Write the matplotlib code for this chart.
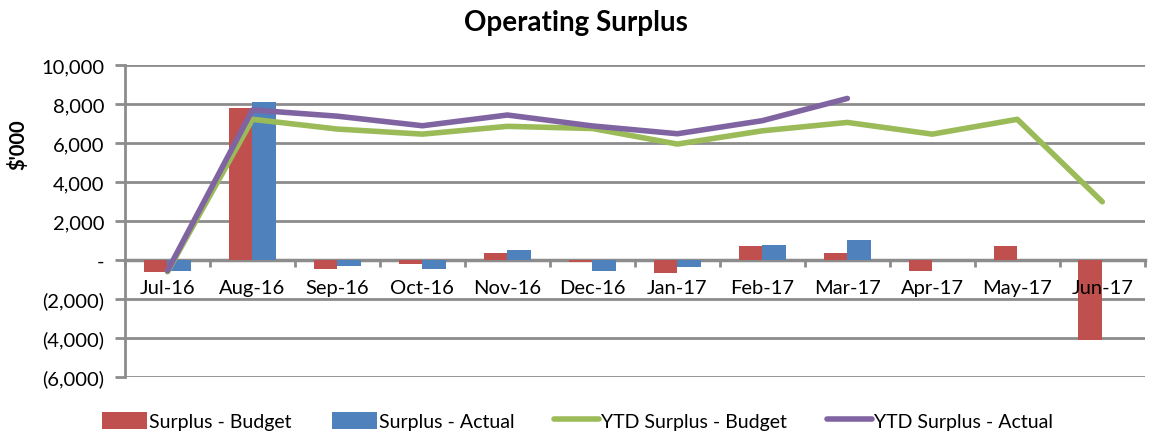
import matplotlib
matplotlib.use("Agg")
import matplotlib.pyplot as plt
import numpy as np
from matplotlib.ticker import FuncFormatter, FixedLocator

plt.rcParams['font.family'] = ['Lato', 'DejaVu Sans']

months = ["Jul-16", "Aug-16", "Sep-16", "Oct-16", "Nov-16", "Dec-16",
          "Jan-17", "Feb-17", "Mar-17", "Apr-17", "May-17", "Jun-17"]
surplus_budget = [-600, 7800, -460, -200, 360, -100, -680, 700, 360, -550, 700, -4120]
surplus_actual = [-550, 8120, -290, -460, 530, -550, -370, 790, 1030, 0, 0, 0]
ytd_budget = [-600, 7220, 6720, 6460, 6860, 6750, 5950, 6630, 7060, 6460, 7220, 2990]
ytd_actual = [-550, 7700, 7380, 6890, 7440, 6880, 6480, 7150, 8290]

RED = "#C0504D"
BLUE = "#4F81BD"
GREEN = "#9BBB59"
PURPLE = "#8064A2"
GRID = "#8C8C8C"

fig = plt.figure(figsize=(11.51, 4.35), dpi=100)
ax = fig.add_axes([0.1086, 0.131, 0.886, 0.717])

x = np.arange(len(months))
w = 0.28
b1 = ax.bar(x - w / 2, surplus_budget, width=w, color=RED, label="Surplus - Budget", zorder=2)
b2 = ax.bar(x + w / 2, surplus_actual, width=w, color=BLUE, label="Surplus - Actual", zorder=2)
l1, = ax.plot(x, ytd_budget, color=GREEN, lw=4, label="YTD Surplus - Budget", zorder=3,
              solid_capstyle='round')
l2, = ax.plot(x[:len(ytd_actual)], ytd_actual, color=PURPLE, lw=4,
              label="YTD Surplus - Actual", zorder=4, solid_capstyle='round')

ax.set_xlim(-0.5, len(months) - 0.5)
ax.set_ylim(-6000, 10000)
ax.set_yticks(np.arange(-6000, 10001, 2000))

def fmt(v, pos):
    if abs(v) < 1e-9:
        return "-"
    if v < 0:
        return "({:,.0f})".format(-v)
    return "{:,.0f}".format(v)

ax.yaxis.set_major_formatter(FuncFormatter(fmt))
ax.yaxis.grid(True, color=GRID, lw=2, zorder=0)
ax.set_axisbelow(True)

for s in ["top", "right"]:
    ax.spines[s].set_visible(False)
ax.spines["left"].set_color(GRID)
ax.spines["left"].set_linewidth(2)
ax.spines["bottom"].set_position(("data", 0))
ax.spines["bottom"].set_color(GRID)
ax.spines["bottom"].set_linewidth(2.5)
ax.spines["bottom"].set_zorder(1)

ax.xaxis.set_major_locator(FixedLocator(np.arange(-0.5, len(months), 1.0)))
ax.xaxis.set_major_formatter(FuncFormatter(lambda v, p: ""))
ax.set_xticks(x, labels=months, minor=True)
ax.tick_params(axis="x", which="major", length=5, width=2, color=GRID, direction="out")
ax.tick_params(axis="x", which="minor", length=0, pad=14, labelsize=14.5)
ax.tick_params(axis="y", length=7, width=2, color=GRID, labelsize=14.5, pad=8)
ax.xaxis.set_zorder(5)

fig.text(0.5005, 0.947, "Operating Surplus", ha="center", va="center",
         fontsize=20, fontweight="bold")
fig.text(0.0156, 0.667, "$'000", rotation=90, ha="center", va="center",
         fontsize=14.5, fontweight="bold")

leg = fig.legend([b1, b2, l1, l2],
                 ["Surplus - Budget", "Surplus - Actual", "YTD Surplus - Budget",
                  "YTD Surplus - Actual"],
                 loc="center", bbox_to_anchor=(0.502, 0.03), ncol=4, frameon=False,
                 fontsize=14, handlelength=2.3, handletextpad=0.12, columnspacing=2.05,
                 handleheight=1.0, borderpad=0.2)

fig.savefig("out.png", dpi=100)
